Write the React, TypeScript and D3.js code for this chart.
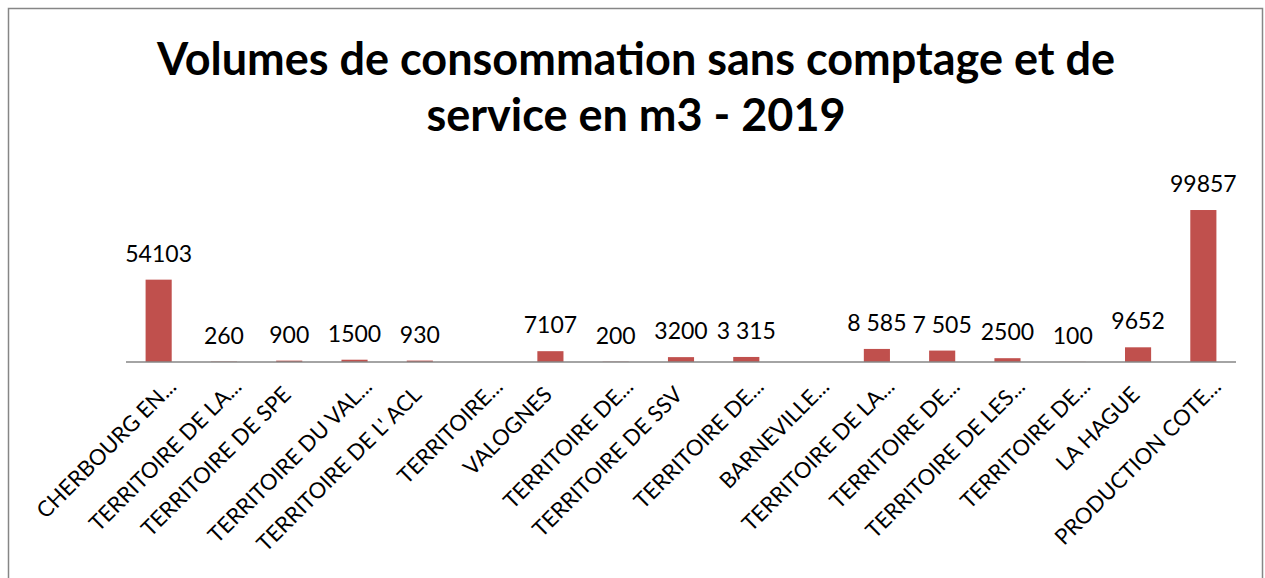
import React from 'react';
import * as d3 from 'd3';

// data
const categories = [
  'CHERBOURG EN...',
  'TERRITOIRE DE LA...',
  'TERRITOIRE DE SPE',
  'TERRITOIRE DU VAL...',
  "TERRITOIRE DE L' ACL",
  'TERRITOIRE...',
  'VALOGNES',
  'TERRITOIRE DE...',
  'TERRITOIRE DE SSV',
  'TERRITOIRE DE...',
  'BARNEVILLE...',
  'TERRITOIRE DE LA...',
  'TERRITOIRE DE...',
  'TERRITOIRE DE LES...',
  'TERRITOIRE DE...',
  'LA HAGUE',
  'PRODUCTION COTE...',
];
const volumes: (number | null)[] = [54103, 260, 900, 1500, 930, null, 7107, 200, 3200, 3315, null, 8585, 7505, 2500, 100, 9652, 99857];
const volumeLabels = ['54103', '260', '900', '1500', '930', '', '7107', '200', '3200', '3 315', '', '8 585', '7 505', '2500', '100', '9652', '99857'];
const titleLines = ['Volumes de consommation sans comptage et de', 'service en m3 - 2019'];

const W = 1265;
const H = 578;
const font = 'Lato, "Open Sans", sans-serif';

const App = () => {
  const left = 126;
  const right = 1236;
  const baseline = 362;

  const x = d3
    .scaleBand<number>()
    .domain(categories.map((_, i) => i))
    .range([left, right])
    .paddingInner(0.6)
    .paddingOuter(0.3);

  const y = d3.scaleLinear().domain([0, 100000]).range([baseline, baseline - 152.2]);

  return (
    <svg width={W} height={H} style={{ position: 'absolute', left: 0, top: 0 }} fontFamily={font}>
      <rect x={8.5} y={8.5} width={1254} height={H + 20} fill="#fff" stroke="#868686" strokeWidth={1.5} />
      {titleLines.map((t, i) => (
        <text key={'t' + i} x={636} y={75 + i * 56} textAnchor="middle" fontSize={45} fontWeight="bold" fill="#000">
          {t}
        </text>
      ))}
      {volumes.map((v, i) =>
        v == null ? null : (
          <rect key={'b' + i} x={x(i)} y={y(v)} width={x.bandwidth()} height={baseline - y(v)} fill="#C0504D" />
        )
      )}
      <line x1={left} x2={right} y1={baseline} y2={baseline} stroke="#868686" strokeWidth={1.5} />
      {volumes.map((v, i) =>
        v == null ? null : (
          <text key={'l' + i} x={x(i)! + x.bandwidth() / 2} y={y(v) - 18} textAnchor="middle" fontSize={23} fill="#000">
            {volumeLabels[i]}
          </text>
        )
      )}
      {categories.map((c, i) => {
        // truncated labels sit a little further up-right, like in Excel
        const cut = c.endsWith('...');
        const cx = x(i)! + x.bandwidth() / 2 + (cut ? 19 : 3);
        const cy = cut ? 388 : 396;
        return (
          <text key={'c' + i} x={cx} y={cy} transform={`rotate(-45, ${cx}, ${cy})`} textAnchor="end" fontSize={22} fill="#000">
            {c}
          </text>
        );
      })}
    </svg>
  );
};

export default App;
